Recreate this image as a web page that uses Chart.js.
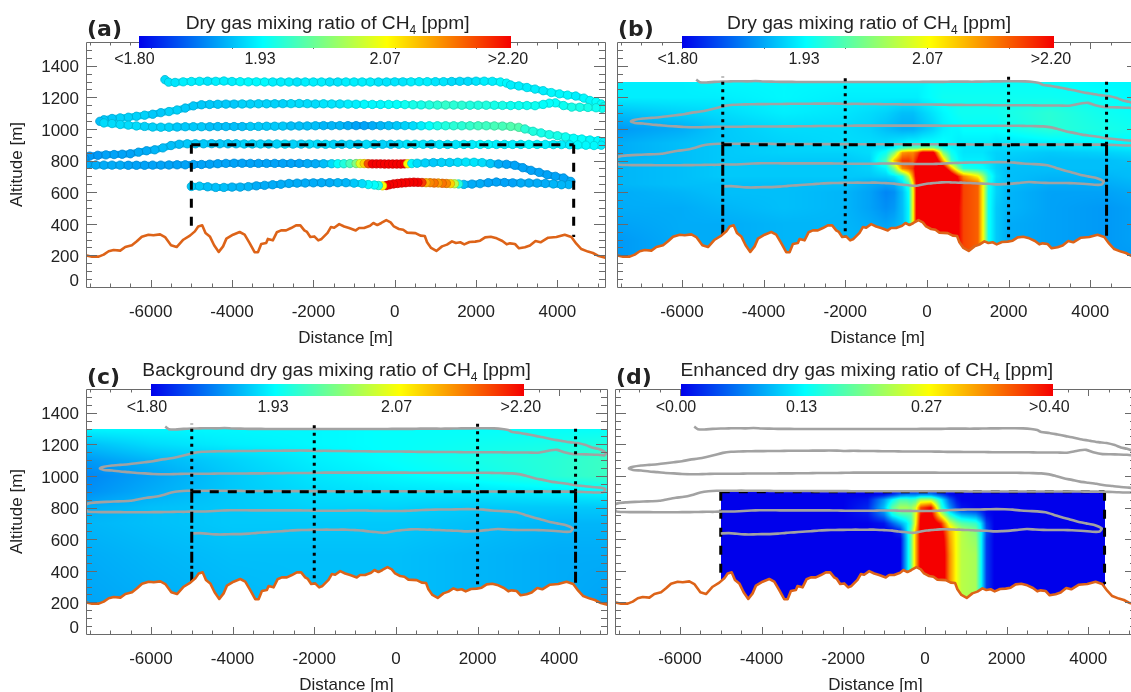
<!DOCTYPE html>
<html>
<head>
<meta charset="utf-8">
<script src="https://cdn.jsdelivr.net/npm/chart.js@4/dist/chart.umd.min.js"></script>
<style>
html, body { margin: 0; background: #fff; overflow: hidden; width: 1131px; height: 692px; }
body { position: relative; font-family: "Liberation Sans", sans-serif; color: #222; }
canvas { position: absolute; }
.txt { position: absolute; white-space: nowrap; transform: translate(-50%, -50%); font-size: 16px; z-index: 3; }
.ttl { font-size: 19.2px; }
.ttl sub { font-size: 12px; line-height: 0; }
.tag { position: absolute; font: bold 22px "DejaVu Sans", sans-serif; transform: translateY(-50%); z-index: 3; }
.bar { position: absolute; height: 12px; z-index: 2;
  background: linear-gradient(to right, rgb(0,0,235), rgb(0,255,255) 33.3%, rgb(255,255,0) 66.7%, rgb(245,0,0)); }
</style>
</head>
<body>
<script>
// axes
const xRange = [-7590, 5170];
const yRange = [0, 1550];
const xTickValues = [-6000, -4000, -2000, 0, 2000, 4000];
const xMinorTicks = [-7500, -7000, -6500, -5500, -5000, -4500, -3500, -3000, -2500, -1500, -1000, -500, 500, 1000, 1500, 2500, 3000, 3500, 4500, 5000];
// label anchors sit a little under the tick marks, as in the figure
const yTickValues = [35, 187, 387, 587, 787, 987, 1187, 1387];
const yTickLabels = ['0', '200', '400', '600', '800', '1000', '1200', '1400'];
const yMajorTicks = [200, 400, 600, 800, 1000, 1200, 1400];
const yMinorTicks = [50, 100, 150, 250, 300, 350, 450, 500, 550, 650, 700, 750, 850, 900, 950, 1050, 1100, 1150, 1250, 1300, 1350, 1450, 1500];

// terrain under the flight, [distance, altitude]
const terrain = [[-7604,201],[-7441,192],[-7278,192],[-7155,205],[-7033,226],[-6911,234],[-6748,230],[-6625,253],[-6462,264],[-6340,289],[-6218,318],[-6055,331],[-5932,327],[-5769,333],[-5647,316],[-5500,264],[-5361,253],[-5198,299],[-5035,325],[-4913,352],[-4831,383],[-4733,390],[-4652,342],[-4546,320],[-4440,264],[-4326,222],[-4220,257],[-4138,306],[-3975,331],[-3812,348],[-3690,331],[-3567,278],[-3445,220],[-3363,220],[-3282,272],[-3160,278],[-3119,304],[-2997,295],[-2899,346],[-2793,358],[-2670,358],[-2548,373],[-2426,390],[-2320,390],[-2222,358],[-2156,348],[-2075,316],[-1977,320],[-1879,295],[-1798,304],[-1651,342],[-1569,379],[-1488,375],[-1365,398],[-1243,383],[-1121,373],[-958,358],[-876,373],[-754,373],[-607,388],[-525,405],[-428,392],[-330,405],[-207,423],[-101,409],[-20,383],[103,367],[209,362],[306,344],[510,341],[633,325],[739,323],[796,283],[894,247],[1024,228],[1163,257],[1285,268],[1408,289],[1505,278],[1611,283],[1709,270],[1840,285],[1978,287],[2100,293],[2223,314],[2361,318],[2508,308],[2647,291],[2753,270],[2835,276],[2957,272],[3055,245],[3201,251],[3324,262],[3462,291],[3585,283],[3772,312],[3976,316],[4180,331],[4343,316],[4465,274],[4588,240],[4751,224],[4873,215],[4996,198],[5134,188],[5300,175]];

// flight legs in flown order, [distance, altitude, CH4 ppm]
const leg1 = [[-5650,1312,1.915],[-5560,1296,1.92],[-5400,1294,1.92],[-5200,1298,1.925],[-5000,1300,1.925],[-4800,1301,1.925],[-4600,1302,1.92],[-4400,1301,1.925],[-4200,1303,1.925],[-4000,1300,1.925],[-3800,1299,1.93],[-3600,1298,1.93],[-3400,1298,1.93],[-3200,1297,1.93],[-3000,1297,1.925],[-2800,1297,1.925],[-2600,1297,1.925],[-2400,1297,1.92],[-2200,1297,1.925],[-2000,1297,1.925],[-1800,1297,1.925],[-1600,1297,1.92],[-1400,1297,1.92],[-1200,1297,1.925],[-1000,1297,1.925],[-800,1297,1.925],[-600,1297,1.925],[-400,1297,1.92],[-200,1297,1.92],[0,1298,1.92],[200,1298,1.92],[400,1298,1.925],[600,1299,1.925],[800,1299,1.925],[1000,1299,1.92],[1200,1299,1.92],[1400,1300,1.915],[1600,1301,1.915],[1800,1301,1.915],[2000,1302,1.92],[2200,1302,1.925],[2400,1301,1.925],[2600,1297,1.93],[2750,1290,1.93],[2850,1278,1.925],[3050,1272,1.925],[3250,1262,1.925],[3450,1252,1.925],[3650,1242,1.925],[3850,1230,1.93],[4050,1222,1.93],[4250,1214,1.93],[4450,1208,1.925],[4650,1195,1.93],[4800,1180,1.93],[4950,1172,1.935],[5080,1158,1.935],[5140,1142,1.94]];
const leg2 = [[5100,1130,1.94],[4950,1134,1.94],[4750,1136,1.945],[4550,1137,1.945],[4350,1138,1.945],[4150,1148,1.94],[3950,1165,1.935],[3800,1163,1.935],[3650,1155,1.935],[3450,1147,1.94],[3250,1148,1.94],[3050,1148,1.94],[2850,1148,1.94],[2650,1149,1.945],[2450,1150,1.945],[2250,1150,1.95],[2050,1150,1.95],[1850,1150,1.95],[1650,1150,1.955],[1450,1151,1.955],[1250,1151,1.96],[1050,1151,1.955],[850,1152,1.95],[650,1152,1.945],[450,1153,1.945],[250,1154,1.94],[50,1155,1.935],[-150,1155,1.935],[-350,1155,1.93],[-550,1155,1.93],[-750,1156,1.93],[-950,1156,1.925],[-1150,1157,1.925],[-1350,1158,1.92],[-1550,1158,1.92],[-1750,1159,1.92],[-1950,1158,1.915],[-2150,1160,1.915],[-2350,1161,1.915],[-2550,1160,1.915],[-2750,1160,1.91],[-2950,1159,1.91],[-3150,1159,1.91],[-3350,1159,1.91],[-3550,1158,1.91],[-3750,1158,1.91],[-3950,1157,1.905],[-4150,1157,1.905],[-4350,1156,1.905],[-4550,1155,1.905],[-4750,1153,1.905],[-4950,1146,1.905],[-5150,1132,1.905],[-5350,1120,1.91],[-5550,1110,1.91],[-5750,1103,1.905],[-5950,1093,1.905],[-6150,1087,1.91],[-6350,1080,1.91],[-6550,1074,1.91],[-6750,1070,1.91],[-6950,1066,1.905],[-7150,1058,1.905],[-7250,1048,1.90]];
const leg3 = [[-7150,1038,1.915],[-6950,1034,1.915],[-6750,1028,1.915],[-6550,1024,1.915],[-6350,1019,1.915],[-6150,1016,1.91],[-5950,1012,1.91],[-5750,1011,1.91],[-5550,1011,1.91],[-5350,1012,1.905],[-5150,1014,1.905],[-4950,1014,1.905],[-4750,1014,1.905],[-4550,1014,1.90],[-4350,1015,1.90],[-4150,1015,1.90],[-3950,1015,1.90],[-3750,1015,1.90],[-3550,1016,1.905],[-3350,1016,1.905],[-3150,1017,1.905],[-2950,1017,1.905],[-2750,1018,1.905],[-2550,1019,1.90],[-2350,1019,1.90],[-2150,1019,1.90],[-1950,1020,1.90],[-1750,1021,1.895],[-1550,1021,1.895],[-1350,1021,1.895],[-1150,1021,1.89],[-950,1021,1.885],[-750,1021,1.885],[-550,1021,1.89],[-350,1021,1.895],[-150,1021,1.90],[50,1021,1.905],[250,1021,1.91],[450,1020,1.915],[650,1020,1.925],[850,1020,1.935],[1050,1020,1.945],[1250,1020,1.95],[1450,1020,1.955],[1650,1020,1.955],[1850,1020,1.96],[2050,1020,1.965],[2250,1020,1.965],[2450,1019,1.97],[2650,1018,1.97],[2850,1016,1.975],[3050,1010,1.975],[3200,1000,1.955],[3400,985,1.95],[3600,975,1.945],[3800,964,1.945],[4000,957,1.945],[4200,950,1.94],[4400,941,1.935],[4600,936,1.935],[4800,930,1.93],[5000,926,1.93],[5130,916,1.925]];
const leg4 = [[5080,897,1.925],[4900,895,1.93],[4700,897,1.93],[4500,899,1.93],[4300,900,1.925],[4100,901,1.925],[3900,901,1.925],[3700,902,1.925],[3500,902,1.93],[3300,902,1.93],[3100,902,1.925],[2900,902,1.925],[2700,902,1.925],[2500,902,1.925],[2300,902,1.93],[2100,902,1.93],[1900,902,1.925],[1700,902,1.925],[1500,902,1.92],[1300,902,1.92],[1100,902,1.92],[900,903,1.915],[700,903,1.92],[500,903,1.92],[300,903,1.92],[100,903,1.915],[-100,903,1.91],[-300,903,1.91],[-500,903,1.915],[-700,903,1.915],[-900,903,1.91],[-1100,903,1.91],[-1300,903,1.91],[-1500,903,1.91],[-1700,903,1.915],[-1900,904,1.915],[-2100,904,1.915],[-2300,904,1.91],[-2500,904,1.91],[-2700,904,1.915],[-2900,905,1.91],[-3100,905,1.91],[-3300,905,1.91],[-3500,905,1.91],[-3700,905,1.91],[-3900,906,1.905],[-4100,906,1.905],[-4300,906,1.905],[-4500,907,1.905],[-4700,906,1.905],[-4900,906,1.905],[-5100,906,1.905],[-5300,903,1.90],[-5500,895,1.90],[-5700,880,1.90],[-5900,868,1.895],[-6100,862,1.89],[-6300,853,1.89],[-6500,843,1.885],[-6700,840,1.885],[-6900,838,1.885],[-7100,836,1.885],[-7300,833,1.88],[-7500,828,1.88],[-7620,812,1.88]];
const leg5 = [[-7560,776,1.89],[-7350,772,1.89],[-7150,771,1.89],[-6950,771,1.89],[-6750,771,1.89],[-6550,770,1.885],[-6350,770,1.885],[-6150,770,1.885],[-5950,771,1.885],[-5750,771,1.885],[-5550,772,1.885],[-5350,773,1.885],[-5150,773,1.885],[-4950,775,1.885],[-4750,775,1.885],[-4550,777,1.885],[-4350,780,1.885],[-4150,782,1.885],[-3950,783,1.885],[-3750,783,1.885],[-3550,782,1.885],[-3350,782,1.885],[-3150,782,1.885],[-2950,782,1.885],[-2750,782,1.885],[-2550,782,1.885],[-2350,782,1.885],[-2150,781,1.89],[-1950,780,1.89],[-1750,780,1.90],[-1550,780,1.915],[-1400,780,1.935],[-1250,780,1.95],[-1100,781,1.97],[-950,781,2.00],[-850,781,2.05],[-750,781,2.09],[-650,780,2.16],[-550,779,2.22],[-450,779,2.20],[-350,779,2.24],[-250,778,2.20],[-150,778,2.24],[-50,778,2.25],[50,778,2.25],[150,778,2.25],[240,779,2.20],[320,780,2.07],[420,781,1.93],[550,783,1.915],[750,785,1.91],[950,787,1.905],[1150,788,1.91],[1350,788,1.91],[1550,789,1.915],[1750,790,1.92],[1950,789,1.92],[2150,787,1.915],[2350,781,1.905],[2550,778,1.89],[2750,776,1.885],[2950,770,1.885],[3150,755,1.885],[3350,738,1.885],[3550,725,1.885],[3750,710,1.885],[3950,700,1.885],[4150,690,1.885],[4330,668,1.89]];
const leg6 = [[4280,648,1.895],[4100,647,1.895],[3900,652,1.895],[3700,655,1.89],[3500,657,1.89],[3300,658,1.89],[3100,658,1.89],[2900,659,1.885],[2700,661,1.885],[2500,664,1.885],[2300,660,1.885],[2100,654,1.89],[1900,651,1.89],[1700,649,1.90],[1570,652,1.95],[1470,653,2.03],[1370,654,2.09],[1270,655,2.13],[1170,656,2.14],[1070,658,2.12],[970,658,2.14],[870,660,2.13],[770,660,2.11],[670,661,2.17],[570,662,2.25],[470,663,2.25],[370,662,2.25],[270,660,2.25],[170,658,2.25],[70,655,2.25],[-30,652,2.25],[-130,647,2.22],[-210,642,2.20],[-300,640,2.07],[-400,642,1.95],[-500,645,1.935],[-650,648,1.93],[-800,654,1.915],[-1000,657,1.905],[-1200,660,1.895],[-1400,660,1.895],[-1600,660,1.89],[-1800,660,1.89],[-2000,659,1.89],[-2200,658,1.89],[-2400,657,1.89],[-2600,655,1.89],[-2800,650,1.89],[-3000,647,1.89],[-3200,643,1.89],[-3400,640,1.89],[-3600,635,1.895],[-3800,632,1.895],[-4000,632,1.895],[-4200,630,1.90],[-4400,630,1.90],[-4600,634,1.90],[-4800,638,1.905],[-5000,636,1.905]];
const track = [...leg1, ...leg2, ...leg3, ...leg4, ...leg5, ...leg6];

// box and sampling columns, [distance, altitude]
const boxTop = [[-5000, 900], [4400, 900]];
const boxLeft = [[-5000, 900], [-5000, 325]];
const boxRight = [[4400, 900], [4400, 316]];
const dotLeftUp = [[-5000, 900], [-5000, 1330]];
const dotRightUp = [[4400, 900], [4400, 1310]];
const dotMinus2000 = [[-2000, 1320], [-2000, 320]];
const dotPlus2000 = [[2000, 1330], [2000, 287]];

// CH4 field of panel (b), rows follow ysB
const xsB = [-7600,-6000,-5000,-3500,-2000,-1400,-1000,-800,-600,-450,-340,-230,-100,150,400,600,780,900,1250,1370,1510,1700,2000,3000,4400,5200];
const ysB = [150,300,400,500,600,650,700,750,800,850,880,910,1000,1100,1200,1300];
const rowsB = [
  [1.88,1.89,1.89,1.895,1.895,1.895,1.895,1.895,1.90,1.93,2.05,2.25,2.40,2.40,2.40,2.30,2.20,2.165,2.15,2.07,1.94,1.905,1.89,1.885,1.88,1.88],
  [1.88,1.89,1.89,1.895,1.895,1.895,1.895,1.895,1.90,1.93,2.05,2.25,2.40,2.40,2.40,2.30,2.20,2.165,2.15,2.07,1.94,1.905,1.89,1.885,1.88,1.885],
  [1.885,1.89,1.89,1.895,1.895,1.89,1.885,1.89,1.90,1.93,2.06,2.25,2.40,2.40,2.40,2.30,2.20,2.165,2.15,2.07,1.94,1.905,1.89,1.885,1.88,1.885],
  [1.89,1.89,1.895,1.90,1.895,1.885,1.875,1.88,1.90,1.93,2.06,2.25,2.40,2.40,2.40,2.30,2.20,2.165,2.15,2.07,1.94,1.905,1.895,1.885,1.88,1.885],
  [1.89,1.895,1.90,1.90,1.895,1.885,1.87,1.875,1.90,1.935,2.06,2.25,2.40,2.40,2.40,2.30,2.21,2.165,2.15,2.07,1.94,1.91,1.895,1.885,1.885,1.89],
  [1.895,1.90,1.90,1.90,1.90,1.89,1.885,1.89,1.915,1.95,2.07,2.25,2.40,2.40,2.40,2.30,2.21,2.165,2.15,2.07,1.945,1.91,1.90,1.89,1.89,1.895],
  [1.895,1.90,1.905,1.905,1.905,1.905,1.91,1.92,1.945,2.03,2.13,2.25,2.40,2.40,2.40,2.27,2.18,2.13,2.07,2.02,1.95,1.915,1.90,1.895,1.895,1.90],
  [1.895,1.90,1.905,1.905,1.905,1.91,1.93,2.00,2.13,2.15,2.17,2.25,2.40,2.40,2.25,2.11,2.00,1.95,1.94,1.935,1.925,1.91,1.90,1.90,1.90,1.90],
  [1.895,1.90,1.905,1.905,1.905,1.91,1.97,2.10,2.17,2.17,2.15,2.20,2.30,2.30,2.10,1.96,1.93,1.925,1.925,1.925,1.92,1.91,1.905,1.90,1.90,1.905],
  [1.89,1.90,1.905,1.91,1.91,1.915,1.94,2.00,2.12,2.13,2.13,2.16,2.22,2.22,2.00,1.94,1.925,1.92,1.92,1.92,1.915,1.91,1.91,1.905,1.91,1.915],
  [1.89,1.90,1.905,1.91,1.915,1.915,1.92,1.93,1.96,1.98,1.98,1.98,2.00,2.00,1.94,1.93,1.925,1.92,1.92,1.92,1.92,1.915,1.915,1.915,1.92,1.925],
  [1.89,1.90,1.905,1.91,1.915,1.915,1.915,1.92,1.925,1.93,1.93,1.93,1.935,1.935,1.935,1.93,1.925,1.925,1.925,1.925,1.925,1.92,1.92,1.925,1.93,1.93],
  [1.88,1.89,1.905,1.915,1.915,1.91,1.90,1.895,1.89,1.89,1.89,1.895,1.90,1.91,1.925,1.93,1.93,1.935,1.935,1.935,1.935,1.935,1.94,1.955,1.945,1.94],
  [1.90,1.91,1.915,1.925,1.92,1.915,1.91,1.905,1.90,1.90,1.90,1.905,1.91,1.92,1.93,1.935,1.94,1.94,1.94,1.94,1.94,1.94,1.945,1.955,1.94,1.935],
  [1.925,1.925,1.925,1.93,1.925,1.925,1.925,1.925,1.925,1.925,1.925,1.925,1.93,1.935,1.94,1.94,1.94,1.94,1.94,1.94,1.94,1.94,1.94,1.94,1.935,1.93],
  [1.925,1.925,1.93,1.93,1.93,1.93,1.93,1.93,1.93,1.93,1.93,1.93,1.93,1.935,1.935,1.935,1.935,1.935,1.935,1.935,1.935,1.935,1.935,1.935,1.93,1.93]
];

// background field of panel (c)
const xsC = [-7600,-6000,-4000,-2000,0,2000,4000,5200];
const ysC = [150,500,700,800,900,1000,1100,1200,1300];
const rowsC = [
  [1.885,1.89,1.895,1.90,1.90,1.895,1.89,1.885],
  [1.89,1.895,1.90,1.90,1.90,1.895,1.89,1.89],
  [1.895,1.90,1.905,1.905,1.905,1.90,1.895,1.895],
  [1.89,1.90,1.905,1.91,1.91,1.905,1.905,1.905],
  [1.875,1.89,1.905,1.915,1.92,1.92,1.925,1.93],
  [1.87,1.885,1.905,1.92,1.93,1.94,1.955,1.965],
  [1.88,1.895,1.91,1.925,1.935,1.945,1.955,1.965],
  [1.90,1.915,1.925,1.93,1.935,1.94,1.945,1.95],
  [1.93,1.93,1.93,1.93,1.935,1.935,1.935,1.935]
];

// enhancement field of panel (d), only inside the box
const xsD = [-5000,-3500,-2000,-1400,-1000,-800,-600,-450,-340,-230,-100,150,400,600,780,900,1250,1370,1510,1700,2000,4400];
const ysD = [150,300,400,500,600,650,700,750,800,850,880,900];
const rowsD = [
  [0,0,0,0,0,0,0,.10,.18,.30,.42,.50,.45,.33,.26,.23,.22,.14,.03,0,0,0],
  [0,0,0,0,0,0,0,.10,.18,.30,.42,.50,.45,.33,.26,.23,.22,.14,.03,0,0,0],
  [0,0,0,0,0,0,0,.10,.18,.30,.42,.50,.45,.33,.26,.23,.22,.14,.03,0,0,0],
  [0,0,0,0,0,0,0,.10,.18,.30,.42,.50,.45,.33,.26,.23,.22,.14,.03,0,0,0],
  [0,0,0,0,0,0,0,.10,.18,.30,.42,.50,.44,.32,.26,.23,.21,.14,.03,0,0,0],
  [0,0,0,0,0,0,.02,.11,.18,.30,.42,.50,.42,.31,.26,.23,.20,.14,.04,0,0,0],
  [0,0,0,0,.01,.05,.09,.12,.16,.26,.42,.45,.38,.25,.20,.18,.16,.12,.03,0,0,0],
  [0,0,0,.01,.06,.13,.16,.17,.18,.25,.40,.42,.26,.16,.12,.10,.08,.05,.01,0,0,0],
  [0,0,0,.02,.10,.18,.22,.22,.21,.24,.36,.40,.16,.08,.03,.01,0,0,0,0,0,0],
  [0,0,0,.01,.08,.13,.17,.17,.16,.17,.22,.22,.13,.05,.01,0,0,0,0,0,0,0],
  [0,0,0,0,.01,.03,.06,.07,.07,.07,.08,.08,.04,.01,0,0,0,0,0,0,0,0],
  [0,0,0,0,0,0,.02,.02,.02,.02,.03,.03,.01,0,0,0,0,0,0,0,0,0]
];

const colourStops = [[0, 0, 235], [0, 255, 255], [255, 255, 0], [245, 0, 0]];
const ppmRange = [1.80, 2.20];
const enhRange = [0, 0.40];

function jet(v, lo, hi) {
  const t = Math.max(0, Math.min(1, (v - lo) / (hi - lo))) * 3;
  const i = Math.min(2, Math.floor(t)), f = t - i;
  const a = colourStops[i], b = colourStops[i + 1];
  return [a[0] + (b[0] - a[0]) * f, a[1] + (b[1] - a[1]) * f, a[2] + (b[2] - a[2]) * f];
}
const css = c => `rgb(${c.map(Math.round).join(',')})`;
const ppm = v => jet(v, ppmRange[0], ppmRange[1]);

// locate v between grid nodes
function cellOf(list, v) {
  let i = 0;
  while (i < list.length - 2 && list[i + 1] < v) i++;
  return [i, (v - list[i]) / (list[i + 1] - list[i])];
}

function heatPlugin(field) {
  return {
    id: 'heat',
    beforeDatasetsDraw(chart) {
      if (!field) return;
      const { ctx, chartArea: area, scales: { x: sx, y: sy } } = chart;
      const l = Math.round(Math.max(area.left, sx.getPixelForValue(field.xs[0])));
      const r = Math.round(Math.min(area.right, sx.getPixelForValue(field.xs[field.xs.length - 1])));
      const t = Math.round(Math.max(area.top, sy.getPixelForValue(field.ys[field.ys.length - 1])));
      const b = Math.round(Math.min(area.bottom, sy.getPixelForValue(field.ys[0])));
      const img = ctx.createImageData(r - l, b - t);
      for (let py = t; py < b; py++) {
        const [j, fy] = cellOf(field.ys, sy.getValueForPixel(py + 0.5));
        for (let px = l; px < r; px++) {
          const [i, fx] = cellOf(field.xs, sx.getValueForPixel(px + 0.5));
          const lower = field.rows[j][i] * (1 - fx) + field.rows[j][i + 1] * fx;
          const upper = field.rows[j + 1][i] * (1 - fx) + field.rows[j + 1][i + 1] * fx;
          const c = jet(lower * (1 - fy) + upper * fy, field.lo, field.hi);
          const k = ((py - t) * (r - l) + px - l) * 4;
          img.data[k] = c[0]; img.data[k + 1] = c[1]; img.data[k + 2] = c[2]; img.data[k + 3] = 255;
        }
      }
      ctx.putImageData(img, l, t);
    }
  };
}

// IDL style frame with inward ticks on all four sides
const framePlugin = {
  id: 'frame',
  afterDraw(chart) {
    const { ctx, chartArea: a, scales: { x: sx, y: sy } } = chart;
    ctx.save();
    ctx.strokeStyle = '#6a6a6a';
    ctx.lineWidth = 1;
    ctx.beginPath();
    ctx.rect(a.left + 0.5, a.top + 0.5, a.right - a.left, a.bottom - a.top);
    const xt = (v, len) => {
      const p = Math.round(sx.getPixelForValue(v)) + 0.5;
      ctx.moveTo(p, a.bottom); ctx.lineTo(p, a.bottom - len);
      ctx.moveTo(p, a.top); ctx.lineTo(p, a.top + len);
    };
    const yt = (v, len) => {
      const p = Math.round(sy.getPixelForValue(v)) + 0.5;
      ctx.moveTo(a.left, p); ctx.lineTo(a.left + len, p);
      ctx.moveTo(a.right, p); ctx.lineTo(a.right - len, p);
    };
    xTickValues.forEach(v => xt(v, 7));
    xMinorTicks.forEach(v => xt(v, 3.5));
    yMajorTicks.forEach(v => yt(v, 11));
    yMinorTicks.forEach(v => yt(v, 6));
    ctx.stroke();
    ctx.restore();
  }
};

const pts = list => list.map(p => ({ x: p[0], y: p[1] }));
const line = (list, color, width, dash) => ({
  type: 'scatter', showLine: true, data: pts(list), borderColor: color, borderWidth: width,
  borderDash: dash || [], pointRadius: 0, fill: false
});
const terrainSet = () => ({
  ...line(terrain, '#dd6318', 2.6),
  fill: { value: 0 }, backgroundColor: '#ffffff', borderJoinStyle: 'round'
});
const greyTrack = () => ({ ...line(track, '#a2a2a2', 2.6), tension: 0.2 });
const dotTrack = () => ({
  type: 'scatter', showLine: true, data: pts(track), borderWidth: 7,
  segment: { borderColor: c => css(ppm(track[c.p0DataIndex][2])) },
  pointRadius: 4.2,
  pointBorderWidth: 0.8,
  pointBackgroundColor: track.map(p => css(ppm(p[2]))),
  pointBorderColor: track.map(p => css(ppm(p[2]).map(n => n * 0.82))),
  fill: false
});

const dashes = [9, 9];
const dashDot = [11, 3, 3, 3];
const dots = [3, 4.5];
const sections = () => [
  line(boxTop, '#000', 3, dashes), line(boxLeft, '#000', 3, dashDot), line(boxRight, '#000', 3, dashDot),
  line(dotLeftUp, '#000', 3, dots), line(dotRightUp, '#000', 3, dots),
  line(dotMinus2000, '#000', 3, dots), line(dotPlus2000, '#000', 3, dots)
];
const dashedBox = () => [line(boxTop, '#000', 3, dashes), line(boxLeft, '#000', 3, dashes), line(boxRight, '#000', 3, dashes)];

const panels = [
  { left: 0, top: 0, width: 610, plotLeft: 86, labelled: true,
    sets: () => [terrainSet(), ...dashedBox(), dotTrack()] },
  { left: 610, top: 0, width: 530, plotLeft: 7, labelled: false, field: { xs: xsB, ys: ysB, rows: rowsB, lo: ppmRange[0], hi: ppmRange[1] },
    sets: () => [terrainSet(), ...sections(), greyTrack()] },
  { left: 0, top: 347, width: 610, plotLeft: 86, labelled: true, field: { xs: xsC, ys: ysC, rows: rowsC, lo: ppmRange[0], hi: ppmRange[1] },
    sets: () => [terrainSet(), ...sections(), greyTrack()] },
  { left: 608, top: 347, width: 532, plotLeft: 7, labelled: false, field: { xs: xsD, ys: ysD, rows: rowsD, lo: enhRange[0], hi: enhRange[1] },
    sets: () => [terrainSet(), greyTrack(), ...dashedBox()] }
];

const font = size => ({ family: '"Liberation Sans", sans-serif', size });
const canvasHeight = 349;

panels.forEach(p => {
  const cv = document.createElement('canvas');
  cv.width = p.width; cv.height = canvasHeight;
  cv.style.left = p.left + 'px'; cv.style.top = p.top + 'px';
  document.body.appendChild(cv);
  new Chart(cv, {
    data: { datasets: p.sets() },
    plugins: [heatPlugin(p.field), framePlugin],
    options: {
      responsive: false, animation: false, devicePixelRatio: 1,
      layout: { padding: { top: 42, right: p.width - p.plotLeft - 521, left: 0, bottom: 0 } },
      plugins: { legend: { display: false }, tooltip: { enabled: false }, title: { display: false } },
      scales: {
        x: {
          type: 'linear', min: xRange[0], max: xRange[1],
          afterBuildTicks: s => { s.ticks = xTickValues.map(v => ({ value: v })); },
          afterFit: s => { s.height = canvasHeight - 287; },
          grid: { display: false, drawTicks: false }, border: { display: false },
          ticks: { color: '#222', font: font(17), padding: 15, maxRotation: 0, callback: v => String(v) },
          title: { display: true, text: 'Distance [m]', color: '#222', font: font(17), padding: { top: 4, bottom: 0 } }
        },
        y: {
          type: 'linear', min: yRange[0], max: yRange[1],
          afterBuildTicks: s => { s.ticks = yTickValues.map(v => ({ value: v })); },
          afterFit: s => { s.width = p.plotLeft; },
          grid: { display: false, drawTicks: false }, border: { display: false },
          ticks: { display: p.labelled, color: '#222', font: font(17), padding: 7, callback: (v, i) => yTickLabels[i] },
          title: { display: p.labelled, text: 'Altitude [m]', color: '#222', font: font(17), padding: { top: 7, bottom: 0 } }
        }
      }
    }
  });
});

// colour bars, titles and panel letters are plain page text
const titles = [
  { tag: '(a)', tagX: 87, tagY: 28, barL: 139, barR: 511, barY: 36, text: 'Dry gas mixing ratio of CH<sub>4</sub> [ppm]', tx: 327.6, ty: 23,
    ticks: ['<1.80', '1.93', '2.07', '>2.20'], tickX: [134.4, 260, 385, 508], tickY: 59 },
  { tag: '(b)', tagX: 618, tagY: 28, barL: 682, barR: 1054, barY: 36, text: 'Dry gas mixing ratio of CH<sub>4</sub> [ppm]', tx: 869, ty: 23,
    ticks: ['<1.80', '1.93', '2.07', '>2.20'], tickX: [677.7, 804, 927.7, 1051], tickY: 59 },
  { tag: '(c)', tagX: 87, tagY: 376, barL: 151, barR: 523.6, barY: 384, text: 'Background dry gas mixing ratio of CH<sub>4</sub> [ppm]', tx: 336.6, ty: 370,
    ticks: ['<1.80', '1.93', '2.07', '>2.20'], tickX: [146.9, 273, 396.6, 520.8], tickY: 407 },
  { tag: '(d)', tagX: 616, tagY: 376, barL: 680.7, barR: 1052.7, barY: 384, text: 'Enhanced dry gas mixing ratio of CH<sub>4</sub> [ppm]', tx: 866.8, ty: 370,
    ticks: ['<0.00', '0.13', '0.27', '>0.40'], tickX: [676, 801.7, 926.7, 1049.3], tickY: 407 }
];

function addEl(cls, html, x, y) {
  const el = document.createElement('div');
  el.className = cls;
  el.innerHTML = html;
  el.style.left = x + 'px';
  el.style.top = y + 'px';
  document.body.appendChild(el);
  return el;
}

titles.forEach(t => {
  addEl('tag', t.tag, t.tagX, t.tagY);
  addEl('bar', '', t.barL, t.barY).style.width = (t.barR - t.barL) + 'px';
  addEl('txt ttl', t.text, t.tx, t.ty);
  t.ticks.forEach((s, i) => addEl('txt', s.replace('<', '&lt;'), t.tickX[i], t.tickY));
});
</script>
</body>
</html>
